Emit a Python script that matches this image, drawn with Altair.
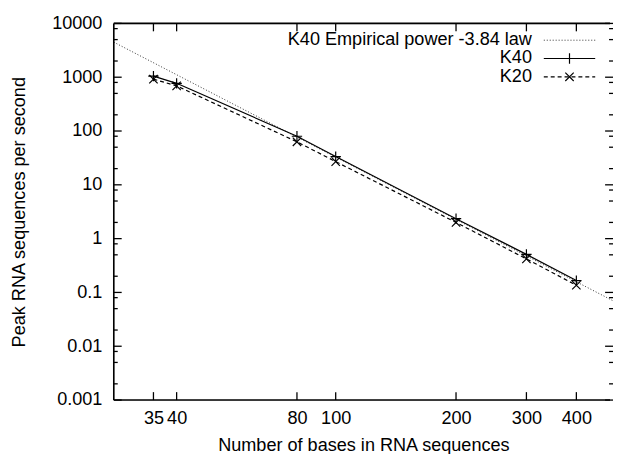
import altair as alt
import pandas as pd

# ---- data ----
bases = [35, 40, 80, 100, 200, 300, 400]
k40 = [1050, 770, 80, 33.5, 2.35, 0.51, 0.166]
k20 = [920, 690, 63, 27, 2.0, 0.42, 0.136]
law_x = [27.85, 494]
law_y = [4480, 0.07]
x_ticks = [35, 40, 80, 100, 200, 300, 400]
y_major = [0.001, 0.01, 0.1, 1, 10, 100, 1000, 10000]
y_minor = [m * d for d in y_major[:-1] for m in (2, 5, 8)]
legend_labels = ["K40 Empirical power -3.84 law", "K40", "K20"]

W, H = 505, 381
FONT = "Liberation Sans"
FS = 18.3
PLUS = "M-1,0L1,0M0,-1L0,1"
CROSS = "M-1,-1L1,1M-1,1L1,-1"

xs = alt.Scale(type="log", domain=[27.85, 494])
ys = alt.Scale(type="log", domain=[0.001, 10000])

df40 = pd.DataFrame({"x": bases, "y": k40})
df20 = pd.DataFrame({"x": bases, "y": k20})
dflaw = pd.DataFrame({"x": law_x, "y": law_y})
dfmaj = pd.DataFrame({"v": y_major})
dfmin = pd.DataFrame({"v": y_minor})
dfxt = pd.DataFrame({"v": x_ticks})

xax = alt.Axis(values=x_ticks, format="d", tickSize=0, domain=False, grid=False,
               labelFont=FONT, labelFontSize=FS, labelPadding=10, labelColor="black",
               title="Number of bases in RNA sequences", titleFont=FONT, titleFontSize=FS,
               titleFontWeight="normal", titlePadding=10, titleColor="black")
yax = alt.Axis(values=y_major, format="~g", tickSize=0, domain=False, grid=False,
               labelFont=FONT, labelFontSize=FS, labelPadding=12, labelColor="black",
               title="Peak RNA sequences per second", titleFont=FONT, titleFontSize=FS,
               titleFontWeight="normal", titlePadding=23, titleColor="black")


def X(f="x"):
    return alt.X(f + ":Q", scale=xs, axis=xax)


def Y(f="y"):
    return alt.Y(f + ":Q", scale=ys, axis=yax)


law = alt.Chart(dflaw).mark_line(clip=True, color="#333", strokeWidth=1, strokeDash=[1, 2]).encode(
    x=X(), y=Y())
l40 = alt.Chart(df40).mark_line(color="black", strokeWidth=1.2).encode(x=X(), y=Y())
p40 = alt.Chart(df40).mark_point(shape=PLUS, size=110, filled=False, color="black",
                                 strokeWidth=1.2, opacity=1).encode(x=X(), y=Y())
l20 = alt.Chart(df20).mark_line(color="black", strokeWidth=1.2, strokeDash=[4, 3]).encode(x=X(), y=Y())
p20 = alt.Chart(df20).mark_point(shape=CROSS, size=72, filled=False, color="black",
                                 strokeWidth=1.2, opacity=1).encode(x=X(), y=Y())

tick_style = dict(color="black", strokeWidth=1.3)
lmaj = alt.Chart(dfmaj).mark_rule(**tick_style).encode(y=Y("v"), x=alt.value(0), x2=alt.value(8))
lmin = alt.Chart(dfmin).mark_rule(**tick_style).encode(y=Y("v"), x=alt.value(0), x2=alt.value(4))
rmaj = alt.Chart(dfmaj).mark_rule(**tick_style).encode(y=Y("v"), x=alt.value(W - 8), x2=alt.value(W))
rmin = alt.Chart(dfmin).mark_rule(**tick_style).encode(y=Y("v"), x=alt.value(W - 4), x2=alt.value(W))
bt = alt.Chart(dfxt).mark_rule(**tick_style).encode(x=X("v"), y=alt.value(H - 8), y2=alt.value(H))
tt = alt.Chart(dfxt).mark_rule(**tick_style).encode(x=X("v"), y=alt.value(0), y2=alt.value(8))

one = pd.DataFrame({"k": [0]})
border_style = dict(color="black", strokeWidth=1.6)
b_left = alt.Chart(one).mark_rule(**border_style).encode(x=alt.value(0), y=alt.value(0), y2=alt.value(H))
b_top = alt.Chart(one).mark_rule(**border_style).encode(y=alt.value(0), x=alt.value(0), x2=alt.value(W - 3))
b_bot = alt.Chart(one).mark_rule(**border_style).encode(y=alt.value(H), x=alt.value(0), x2=alt.value(W - 3))

# legend (gnuplot style, inside top right)
rows_y = [17, 35.5, 54]
TX, L0, L1 = 423, 435, 487
LM = (L0 + L1) / 2
leg = []
for i, lab in enumerate(legend_labels):
    d = pd.DataFrame({"label": [lab]})
    leg.append(alt.Chart(d).mark_text(align="right", baseline="middle", font=FONT, fontSize=FS,
                                      color="black").encode(
        x=alt.value(TX), y=alt.value(rows_y[i]), text="label:N"))
d1 = pd.DataFrame({"label": [legend_labels[0]]})
leg.append(alt.Chart(d1).mark_rule(color="#333", strokeWidth=1, strokeDash=[1, 2]).encode(
    x=alt.value(L0), x2=alt.value(L1), y=alt.value(rows_y[0])))
leg.append(alt.Chart(d1).mark_rule(color="black", strokeWidth=1.2).encode(
    x=alt.value(L0), x2=alt.value(L1), y=alt.value(rows_y[1])))
leg.append(alt.Chart(d1).mark_point(shape=PLUS, size=110, filled=False, color="black",
                                    strokeWidth=1.2, opacity=1).encode(
    x=alt.value(LM), y=alt.value(rows_y[1])))
leg.append(alt.Chart(d1).mark_rule(color="black", strokeWidth=1.2, strokeDash=[4, 3]).encode(
    x=alt.value(L0), x2=alt.value(L1), y=alt.value(rows_y[2])))
leg.append(alt.Chart(d1).mark_point(shape=CROSS, size=72, filled=False, color="black",
                                    strokeWidth=1.2, opacity=1).encode(
    x=alt.value(LM), y=alt.value(rows_y[2])))

chart = alt.layer(law, l40, l20, p40, p20, lmaj, lmin, rmaj, rmin, bt, tt,
                  b_left, b_top, b_bot, *leg).properties(
    width=W, height=H,
    autosize=alt.AutoSizeParams(type="none"),
    padding={"left": 107, "top": 13, "right": 0, "bottom": 52},
).configure_view(stroke=None).configure(background="white")

chart.save("out.html", embed_options={"renderer": "svg", "actions": False})
